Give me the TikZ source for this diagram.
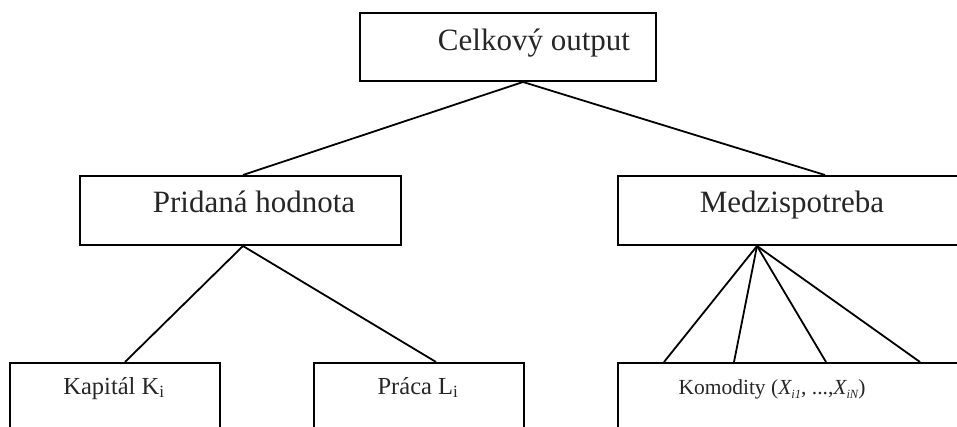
\documentclass[tikz,border=0pt]{standalone}
\usepackage{fontspec}
\setmainfont{Liberation Serif}
\usetikzlibrary{calc}
\newcommand{\mysub}[1]{\raisebox{-4pt}{\fontsize{12.5}{13}\selectfont #1}}
\tikzset{
  box/.style={draw, line width=2pt, inner sep=0pt, anchor=north west},
  bigtxt/.style={anchor=base, inner sep=0pt, font=\fontsize{31}{36}\selectfont, text=black!85},
  smalltxt/.style={anchor=base, inner sep=0pt, font=\fontsize{24.5}{29}\selectfont, text=black!85},
  tinytxt/.style={anchor=base, inner sep=0pt, font=\fontsize{21.5}{25}\selectfont, text=black!85},
  conn/.style={line width=1.8pt}
}
\begin{document}
\begin{tikzpicture}[x=1pt,y=-1pt]
\useasboundingbox (0,0) rectangle (957,427);
\clip (0,0) rectangle (957,427);
% boxes
\node[box, minimum width=296pt, minimum height=68pt] (out) at (359,12) {};
\node[box, minimum width=321pt, minimum height=69pt] (pri) at (79,175) {};
\node[box, minimum width=380pt, minimum height=69pt] (med) at (617,175) {};
\node[box, minimum width=210pt, minimum height=90pt] (kap) at (9,362) {};
\node[box, minimum width=210pt, minimum height=90pt] (pra) at (313,362) {};
\node[box, minimum width=380pt, minimum height=90pt] (kom) at (617,362) {};
% texts
\node[bigtxt] (tout) at (534,51) {Celkový output};
\node[bigtxt] (tpri) at (254,213) {Pridaná hodnota};
\node[bigtxt] (tmed) at (792,213) {Medzispotreba};
\node[smalltxt] (tkap) at (114,394) {Kapitál K\textsubscript{i}};
\node[smalltxt] (tpra) at (418,394) {Práca L\textsubscript{i}};
\node[tinytxt] (tkom) at (772,394) {Komodity (\textit{X\mysub{i1}}, ...,\textit{X\mysub{iN}})};
% connectors
\coordinate (outb) at ($(out.south west)+(164,0)$);
\draw[conn] (outb) -- ($(pri.north west)+(164,0)$);
\draw[conn] (outb) -- ($(med.north west)+(208,0)$);
\coordinate (prib) at ($(pri.south west)+(164,0)$);
\draw[conn] (prib) -- ($(kap.north west)+(116,0)$);
\draw[conn] (prib) -- ($(pra.north west)+(123,0)$);
\coordinate (medb) at ($(med.south west)+(140,0)$);
\draw[conn] (medb) -- ($(kom.north west)+(47,0)$);
\draw[conn] (medb) -- ($(kom.north west)+(117,0)$);
\draw[conn] (medb) -- ($(kom.north west)+(209,0)$);
\draw[conn] (medb) -- ($(kom.north west)+(303,0)$);
\end{tikzpicture}
\end{document}
